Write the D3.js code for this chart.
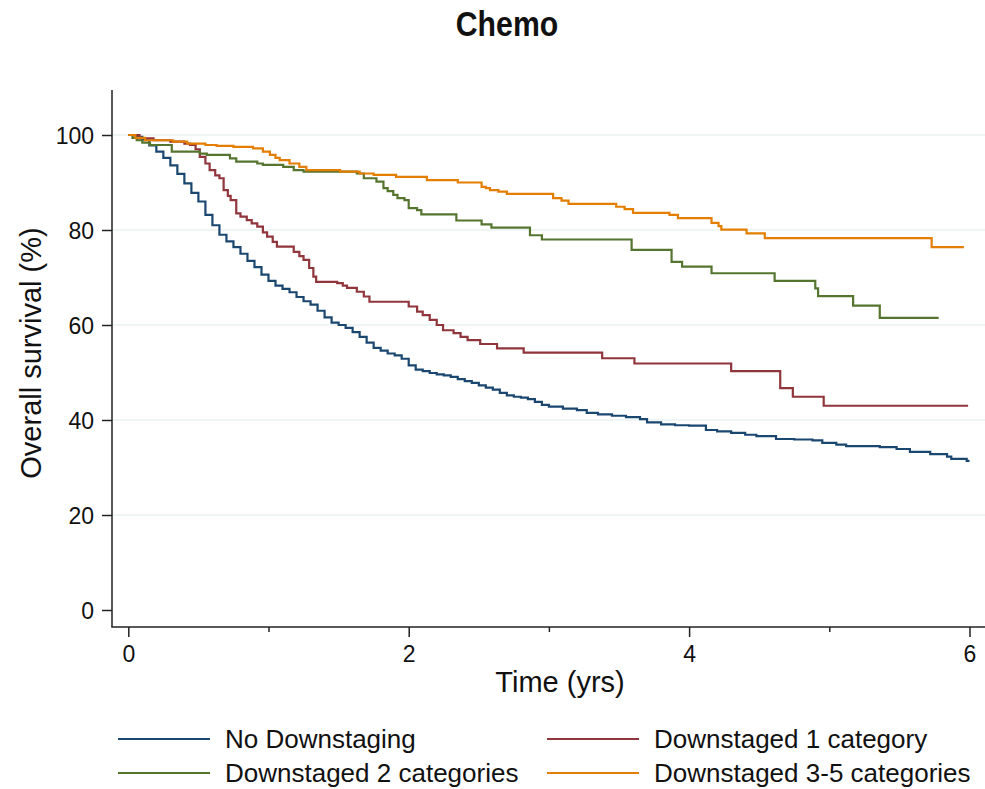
<!DOCTYPE html>
<html>
<head>
<meta charset="utf-8">
<script src="https://cdn.jsdelivr.net/npm/d3@7"></script>
<style>
  body { margin: 0; background: #fff; }
  svg { display: block; }
  text { font-family: "Liberation Sans", Arial, Helvetica, sans-serif; fill: #111; }
</style>
</head>
<body>
<svg id="chart" width="985" height="789"></svg>
<script>
// ---- Data ----
const title = "Chemo";
const xLabel = "Time (yrs)";
const yLabel = "Overall survival (%)";
const yTicks = [0, 20, 40, 60, 80, 100];
const xTicksMajor = [0, 2, 4, 6];
const xTicksMinor = [1, 3, 5];
const seriesNames = ["No Downstaging", "Downstaged 1 category", "Downstaged 2 categories", "Downstaged 3-5 categories"];
const seriesColors = ["#1a476f", "#90353b", "#55752f", "#e37e00"];

const noDownT = [0,0.05,0.1,0.15,0.2,0.25,0.3,0.35,0.4,0.45,0.5,0.55,0.6,0.65,0.7,0.75,0.8,0.85,0.9,0.95,1.0,1.05,1.1,1.15,1.2,1.25,1.3,1.35,1.4,1.45,1.5,1.55,1.6,1.65,1.7,1.75,1.8,1.85,1.9,1.95,2.0,2.05,2.1,2.15,2.2,2.25,2.3,2.35,2.4,2.45,2.5,2.55,2.6,2.65,2.7,2.75,2.8,2.85,2.9,2.95,3.0,3.1,3.2,3.27,3.35,3.45,3.55,3.65,3.7,3.8,3.9,4.0,4.12,4.2,4.3,4.4,4.48,4.62,4.75,4.88,4.95,5.05,5.12,5.36,5.48,5.575,5.72,5.84,5.87,5.98,6.0];
const noDownS = [100,99.6,99,97.8,96.5,95.2,93.6,91.8,89.8,87.8,86,83.2,81,79,77.6,76.4,75,73.5,72.2,70.6,69.3,68.3,67.6,66.9,65.9,65,64.3,63,61.6,60.5,60,59.4,58.5,57.5,56.3,55.2,54.6,54,53.6,52.9,51.5,50.6,50.3,49.9,49.6,49.4,49.1,48.6,48.2,47.8,47.3,46.8,46.4,45.7,45.2,44.9,44.7,44.4,43.8,43.2,42.8,42.4,42.1,41.5,41.2,40.9,40.6,40.2,39.5,39.1,38.9,38.8,37.9,37.6,37.3,36.9,36.6,36.0,35.9,35.7,35.2,34.8,34.5,34.3,33.9,33.3,32.8,32.3,31.8,31.4,31.4];

const down1T = [0,0.08,0.18,0.3,0.4,0.44,0.48,0.51,0.55,0.58,0.62,0.65,0.68,0.71,0.73,0.77,0.80,0.845,0.88,0.92,0.96,0.99,1.03,1.06,1.18,1.22,1.25,1.29,1.32,1.34,1.49,1.53,1.56,1.63,1.68,1.72,2.0,2.06,2.1,2.15,2.2,2.245,2.32,2.37,2.42,2.51,2.63,2.82,3.38,3.61,4.30,4.65,4.74,4.96,5.99];
const down1S = [100,99.3,98.9,98.6,98.2,97.9,97,95.4,94,92.6,91.5,90.9,88.4,87.2,86.3,83.5,82.8,82.1,81.4,80.7,79.5,78.6,77.5,76.5,75.4,74.5,73.7,72,70.2,69.1,68.8,68.3,67.8,67.0,66,64.9,63.9,62.8,62.1,61.1,60.0,58.9,58.3,57.5,56.8,56.0,55.1,54.2,53.0,51.9,50.3,46.7,44.9,43.0,43.0];

const down2T = [0,0.03,0.06,0.1,0.155,0.31,0.51,0.56,0.725,0.77,0.92,0.96,1.105,1.18,1.25,1.63,1.68,1.77,1.82,1.85,1.89,1.92,1.97,2.0,2.06,2.09,2.34,2.52,2.59,2.865,2.95,3.59,3.875,3.95,4.16,4.61,4.90,4.92,5.17,5.36,5.78];
const down2S = [100,99.4,98.9,98.4,97.9,96.5,96.1,95.8,95.1,94.4,94.0,93.7,93.3,92.6,92.3,91.9,90.9,90.2,88.8,88.2,87.4,86.7,86.3,84.6,84.2,83.3,82.0,81.2,80.5,78.9,78.0,75.8,73.3,72.3,70.9,69.3,67.7,66.1,64.1,61.5,61.5];

const down3T = [0,0.05,0.12,0.32,0.42,0.55,0.63,0.75,0.89,0.96,1.01,1.05,1.08,1.15,1.22,1.27,1.51,1.65,1.75,1.91,2.13,2.35,2.52,2.55,2.58,2.64,2.70,3.03,3.09,3.14,3.48,3.54,3.60,3.86,3.92,4.16,4.21,4.23,4.41,4.54,5.73,5.96];
const down3S = [100,99.4,98.9,98.6,98.2,97.9,97.7,97.5,97.2,96.5,95.8,95.2,94.7,94.0,93.3,92.6,92.3,91.9,91.6,91.2,90.5,90.0,89.1,88.8,88.4,88.1,87.6,86.7,86.2,85.5,84.9,84.4,83.6,83.2,82.5,81.5,80.8,80.1,79.3,78.3,76.4,76.4];

const seriesT = [noDownT, down1T, down2T, down3T];
const seriesS = [noDownS, down1S, down2S, down3S];

// ---- Layout ----
const svg = d3.select("#chart");
const x = d3.scaleLinear().domain([0, 6]).range([128.3, 969.5]);
const y = d3.scaleLinear().domain([0, 100]).range([610, 135]);
const axisX0 = 112, axisYbottom = 627, axisYtop = 90, plotRight = 985;

// title (condensed bold look)
svg.append("text")
  .attr("transform", "translate(507,36) scale(0.84,1)")
  .attr("text-anchor", "middle")
  .style("font-weight", "bold")
  .style("font-size", "36px")
  .text(title);

// gridlines
svg.append("g").selectAll("line")
  .data(yTicks.filter(d => d > 0))
  .join("line")
  .attr("x1", axisX0).attr("x2", plotRight)
  .attr("y1", d => y(d)).attr("y2", d => y(d))
  .attr("stroke", "#eaf0f2").attr("stroke-width", 1.3);

// y axis
const gy = svg.append("g").attr("transform", `translate(${axisX0},0)`)
  .call(d3.axisLeft(y).tickValues(yTicks).tickSize(10).tickPadding(8).tickFormat(d3.format("d")));
gy.select(".domain").remove();
gy.selectAll(".tick line").attr("stroke", "#222").attr("stroke-width", 1.5);
gy.selectAll(".tick text").style("font-size", "23px").style("font-family", "'Liberation Sans', Arial, sans-serif").attr("fill", "#111").attr("dy", "0.36em");
svg.append("line").attr("x1", axisX0).attr("x2", axisX0).attr("y1", axisYtop).attr("y2", axisYbottom)
  .attr("stroke", "#222").attr("stroke-width", 1.5);

// x axis
const gx = svg.append("g").attr("transform", `translate(0,${axisYbottom})`)
  .call(d3.axisBottom(x).tickValues(xTicksMajor).tickSize(10).tickPadding(9).tickFormat(d3.format("d")));
gx.select(".domain").remove();
gx.selectAll(".tick line").attr("stroke", "#222").attr("stroke-width", 1.5);
gx.selectAll(".tick text").style("font-size", "23px").style("font-family", "'Liberation Sans', Arial, sans-serif").attr("fill", "#111");
const gxm = svg.append("g").attr("transform", `translate(0,${axisYbottom})`)
  .call(d3.axisBottom(x).tickValues(xTicksMinor).tickSize(5).tickFormat(""));
gxm.select(".domain").remove();
gxm.selectAll(".tick line").attr("stroke", "#222").attr("stroke-width", 1.5);
svg.append("line").attr("x1", axisX0 - 0.75).attr("x2", plotRight).attr("y1", axisYbottom).attr("y2", axisYbottom)
  .attr("stroke", "#222").attr("stroke-width", 1.5);

// axis titles
svg.append("text")
  .attr("x", 560).attr("y", 692)
  .attr("text-anchor", "middle")
  .style("font-size", "29px")
  .text(xLabel);
svg.append("text")
  .attr("transform", "translate(41,353) rotate(-90)")
  .attr("text-anchor", "middle")
  .style("font-size", "29px")
  .text(yLabel);

// curves
const line = d3.line()
  .x(d => x(d[0])).y(d => y(d[1]))
  .curve(d3.curveStepAfter);
svg.append("g").selectAll("path")
  .data(seriesT.map((ts, i) => ts.map((t, j) => [t, seriesS[i][j]])))
  .join("path")
  .attr("d", line)
  .attr("fill", "none")
  .attr("stroke", (d, i) => seriesColors[i])
  .attr("stroke-width", 2.2);

// legend
const legendPos = [[118, 739], [547, 739], [118, 773], [547, 773]];
const lg = svg.append("g").selectAll("g")
  .data(seriesNames)
  .join("g")
  .attr("transform", (d, i) => `translate(${legendPos[i][0]},${legendPos[i][1]})`);
lg.append("line").attr("x1", 0).attr("x2", 92).attr("y1", 0).attr("y2", 0)
  .attr("stroke", (d, i) => seriesColors[i]).attr("stroke-width", 2.2);
lg.append("text").attr("x", 107).attr("y", 0).attr("dy", "0.36em")
  .style("font-size", "26px")
  .text(d => d);
</script>
</body>
</html>
